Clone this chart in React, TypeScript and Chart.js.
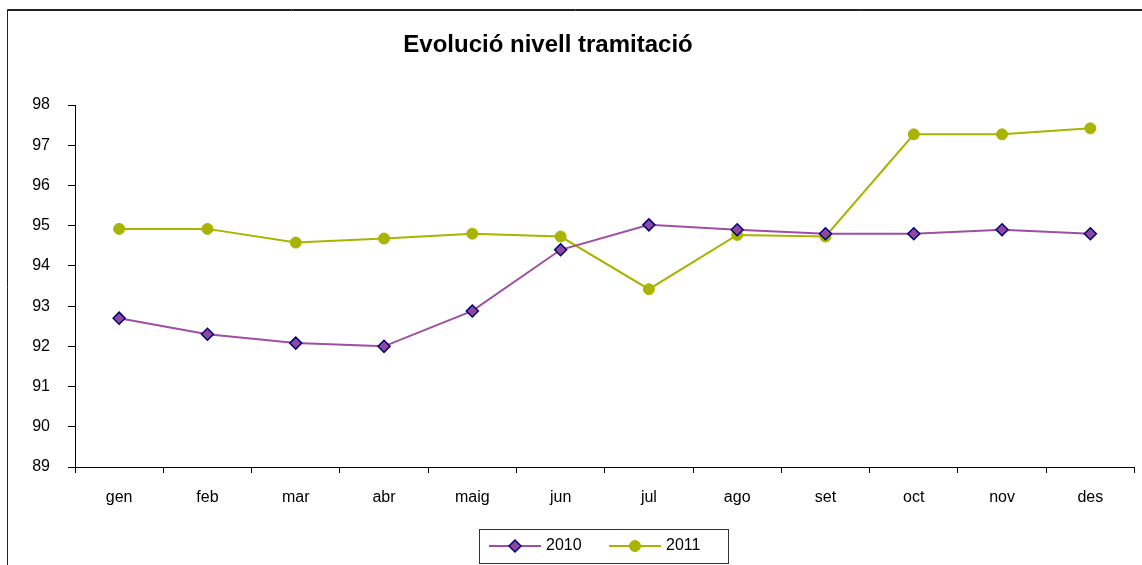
import React, { useEffect, useRef } from "react";
import { Chart, registerables } from "chart.js";

Chart.register(...registerables);

const TITLE = "Evolució nivell tramitació";
const MONTHS = ["gen", "feb", "mar", "abr", "maig", "jun", "jul", "ago", "set", "oct", "nov", "des"];
const SERIES_2010 = [92.7, 92.3, 92.08, 92.0, 92.88, 94.4, 95.02, 94.9, 94.8, 94.8, 94.9, 94.8];
const SERIES_2011 = [94.92, 94.92, 94.58, 94.68, 94.8, 94.73, 93.42, 94.77, 94.73, 97.27, 97.27, 97.42];
const Y_MIN = 89;
const Y_MAX = 98;

const FONT = "'Liberation Sans', Arial, sans-serif";

const framePlugin = {
  id: "frameTitleLegend",
  afterDraw(chart: any) {
    const ctx = chart.ctx;
    ctx.save();
    // outer frame
    ctx.strokeStyle = "#222";
    ctx.lineWidth = 1;
    ctx.beginPath();
    ctx.moveTo(7.5, 1200);
    ctx.lineTo(7.5, 9.5);
    ctx.lineTo(1200, 9.5);
    ctx.stroke();
    ctx.beginPath();
    ctx.moveTo(7.5, 10.5);
    ctx.lineTo(1200, 10.5);
    ctx.stroke();

    // title
    ctx.fillStyle = "#000";
    ctx.font = `bold 24px ${FONT}`;
    ctx.textAlign = "center";
    ctx.textBaseline = "middle";
    ctx.fillText(TITLE, 548, 45);

    // legend
    ctx.strokeStyle = "#333";
    ctx.lineWidth = 1;
    ctx.strokeRect(479.5, 529.5, 249, 34);
    const items = chart.data.datasets;
    const starts = [489, 609];
    const ly = 546;
    items.forEach((ds: any, i: number) => {
      const x0 = starts[i];
      ctx.strokeStyle = ds.borderColor;
      ctx.lineWidth = 2;
      ctx.beginPath();
      ctx.moveTo(x0, ly);
      ctx.lineTo(x0 + 52, ly);
      ctx.stroke();
      const cx = x0 + 26;
      ctx.fillStyle = ds.pointBackgroundColor;
      ctx.strokeStyle = ds.pointBorderColor;
      ctx.lineWidth = ds.pointBorderWidth;
      ctx.beginPath();
      if (ds.pointStyle === "rectRot") {
        const r = ds.pointRadius;
        ctx.moveTo(cx - r, ly);
        ctx.lineTo(cx, ly - r);
        ctx.lineTo(cx + r, ly);
        ctx.lineTo(cx, ly + r);
        ctx.closePath();
      } else {
        ctx.arc(cx, ly, ds.pointRadius, 0, Math.PI * 2);
      }
      ctx.fill();
      ctx.stroke();
      ctx.fillStyle = "#000";
      ctx.font = `16px ${FONT}`;
      ctx.textAlign = "left";
      ctx.textBaseline = "middle";
      ctx.fillText(ds.label, x0 + 57, ly);
    });
    ctx.restore();
  },
};

export default function App() {
  const ref = useRef<HTMLCanvasElement>(null);
  useEffect(() => {
    if (!ref.current) return;
    const chart = new Chart(ref.current, {
      type: "line",
      data: {
        labels: MONTHS,
        datasets: [
          {
            label: "2010",
            data: SERIES_2010,
            borderColor: "#9E4FA3",
            borderWidth: 2,
            pointStyle: "rectRot",
            pointRadius: 6,
            pointBackgroundColor: "#8E4A98",
            pointBorderColor: "#000080",
            pointBorderWidth: 1.5,
            tension: 0,
          },
          {
            label: "2011",
            data: SERIES_2011,
            borderColor: "#A8B400",
            borderWidth: 2,
            pointStyle: "circle",
            pointRadius: 5.5,
            pointBackgroundColor: "#A8B400",
            pointBorderColor: "#A8B400",
            pointBorderWidth: 1,
            tension: 0,
          },
        ],
      },
      options: {
        animation: false,
        responsive: false,
        maintainAspectRatio: false,
        layout: { padding: { left: 0, right: 5, top: 105, bottom: 0 } },
        plugins: {
          legend: { display: false },
          title: { display: false },
          tooltip: { enabled: false },
        },
        scales: {
          x: {
            type: "category",
            offset: true,
            grid: { drawOnChartArea: false, drawTicks: true, tickLength: 6, offset: true, color: "#000" },
            border: { color: "#000", width: 1 },
            ticks: { color: "#000", font: { family: FONT, size: 16 }, padding: 15, maxRotation: 0 },
            afterFit: (s: any) => {
              s.height = 98;
            },
          },
          y: {
            min: Y_MIN,
            max: Y_MAX,
            grid: { drawOnChartArea: false, drawTicks: true, tickLength: 7, color: "#000" },
            border: { color: "#000", width: 1 },
            ticks: { stepSize: 1, color: "#000", font: { family: FONT, size: 16 }, padding: 18 },
            afterFit: (s: any) => {
              s.width = 75;
            },
          },
        },
      },
      plugins: [framePlugin],
    });
    return () => chart.destroy();
  }, []);
  return (
    <div style={{ position: "absolute", left: 0, top: 0, width: 1142, height: 565 }}>
      <canvas ref={ref} width={1142} height={565} style={{ display: "block" }} />
    </div>
  );
}
